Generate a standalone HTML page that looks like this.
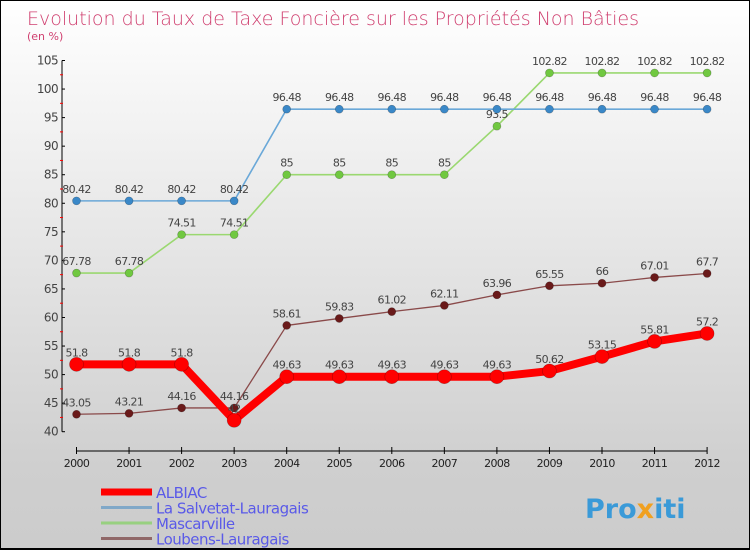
<!DOCTYPE html>
<html><head><meta charset="utf-8"><style>
body{margin:0}
#wrap{position:relative;width:750px;height:550px;box-sizing:border-box;border:1px solid #000;border-bottom:2px solid #000;background:linear-gradient(#fff,#cfcfcf 85%,#cccccc);font-family:"DejaVu Sans","Liberation Sans",sans-serif;overflow:hidden}
svg{position:absolute;left:0;top:0}
</style></head><body>
<div id="wrap">
<svg id="s" width="750" height="550">
<text x="26" y="24" font-size="19" fill="#d04070" font-family="DejaVu Sans, sans-serif" font-weight="200">Evolution du Taux de Taxe Foncière sur les Propriétés Non Bâties</text>
<text x="26" y="39" font-size="11" fill="#d04070">(en %)</text>
<text x="584" y="517" font-size="27" font-weight="bold" fill="#3a9ad8">Pro<tspan fill="#f0a020">x</tspan>iti</text>
</svg>
</div>
<script>
const years=[2000,2001,2002,2003,2004,2005,2006,2007,2008,2009,2010,2011,2012];
const albiac=[51.8,51.8,51.8,42,49.63,49.63,49.63,49.63,49.63,50.62,53.15,55.81,57.2];
const salvetat=[80.42,80.42,80.42,80.42,96.48,96.48,96.48,96.48,96.48,96.48,96.48,96.48,96.48];
const mascarville=[67.78,67.78,74.51,74.51,85,85,85,85,93.5,102.82,102.82,102.82,102.82];
const loubens=[43.05,43.21,44.16,44.16,58.61,59.83,61.02,62.11,63.96,65.55,66,67.01,67.7];
const yTicks=[40,45,50,55,60,65,70,75,80,85,90,95,100,105];
const names=["ALBIAC","La Salvetat-Lauragais","Mascarville","Loubens-Lauragais"];
const NS="http://www.w3.org/2000/svg",s=document.getElementById('s');
const X=i=>75.5+i*52.55, Y=v=>430.7-(v-40)*(371.2/65);
function el(t,a,p){const e=document.createElementNS(NS,t);for(const k in a)e.setAttribute(k,a[k]);(p||s).appendChild(e);return e;}
function txt(x,y,str,a){const e=el('text',Object.assign({x:x,y:y,'font-size':11,fill:'#444','letter-spacing':'-0.6'},a));e.textContent=str;return e;}
// axes
let ax=el('line',{x1:61,y1:Y(105),x2:61,y2:Y(40),stroke:'#000'});

let bx=el('line',{x1:X(0),y1:450,x2:X(12),y2:450,stroke:'#000'});

yTicks.forEach((v,i)=>{el('line',{x1:61,x2:64,y1:Y(v),y2:Y(v),stroke:'#000'});
 if(i<yTicks.length-1)el('line',{x1:59,x2:62,y1:Y(v+2.5),y2:Y(v+2.5),stroke:'#f00'});
 const t=txt(57,Y(v)+4,String(v),{'text-anchor':'end','font-size':12});
 });
years.forEach((y,i)=>{el('line',{x1:X(i),x2:X(i),y1:446,y2:453,stroke:'#000'});
 const t=txt(X(i),466,String(y),{'text-anchor':'middle','font-size':11,fill:'#222'});
 });
function series(d,col,w,r,name,dot){
 const g=el('g',{});
 el('polyline',{points:d.map((v,i)=>X(i)+','+Y(v)).join(' '),fill:'none',stroke:col,'stroke-width':w,'stroke-linejoin':'round'},g);
 d.forEach((v,i)=>{const c=el('circle',{cx:X(i),cy:Y(v),r:r,fill:dot,stroke:'rgba(0,0,0,0.3)','stroke-width':0.6},g);
  
  const t=txt(X(i),Y(v)-8,String(v),{'text-anchor':'middle'},g);
  });
}
series(loubens,'#8a4a4a',1.3,4,'loubens','#6a1a1a');
series(mascarville,'#9ad870',1.6,4,'mascarville','#70c840');
series(salvetat,'#6aa8d8',1.6,4,'salvetat','#3a88c8');
series(albiac,'#f00',8,7,'albiac','#f00');
const lc=['#f00','#80a8c8','#98d080','#906868'],lw=[7,3,3,3];
names.forEach((n,i)=>{const y=491+i*15.5;
 const l=el('line',{x1:100,x2:151,y1:y,y2:y,stroke:lc[i],'stroke-width':lw[i]});
 
 const t=txt(155,y+6,n,{'font-size':15,fill:'#5a5ae8','letter-spacing':'-0.5'});
 });
</script>
</body></html>
